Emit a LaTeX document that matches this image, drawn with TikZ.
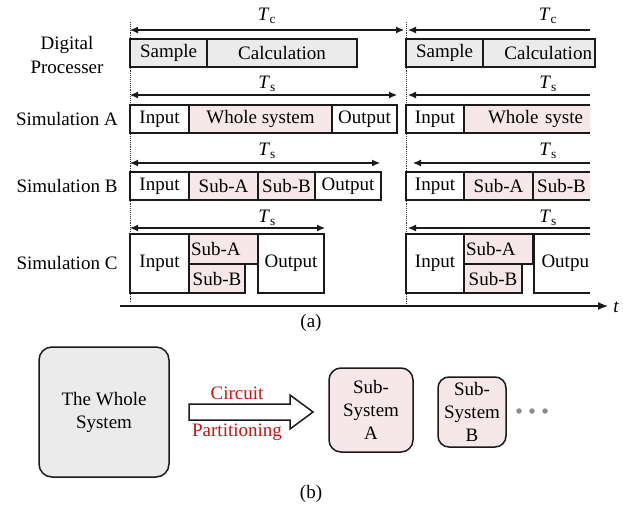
\documentclass[tikz,border=0pt]{standalone}
\usepackage{fontspec}
\setmainfont{Liberation Serif}
\usetikzlibrary{arrows.meta}
\definecolor{grayfill}{HTML}{EBEBEB}
\definecolor{pinkfill}{HTML}{F6E8E8}
\definecolor{redtext}{HTML}{CC1111}
\definecolor{linec}{HTML}{1A1A1A}
\newcommand\bx[7]{\node[#1, minimum width={(#5)-(#3)}, minimum height={(#6)-(#4)}] (#2) at ({((#3)+(#5))/2},{((#4)+(#6))/2}) {#7};}
\tikzset{
  fs/.style={font=\fontsize{19}{23}\selectfont},
  box/.style={fs, draw=linec, line width=1.5pt, inner xsep=2pt, inner ysep=0pt},
  gbox/.style={box, fill=grayfill},
  pbox/.style={box, fill=pinkfill},
  pfill/.style={fs, fill=pinkfill, inner xsep=2pt, inner ysep=0pt},
  wfill/.style={fs, inner xsep=2pt, inner ysep=0pt},
  boxline/.style={draw=linec, line width=1.5pt},
  dimboth/.style={line width=1.1pt, draw=linec, {Latex[length=8pt,width=7pt]}-{Latex[length=8pt,width=7pt]}},
  dimleft/.style={line width=1.1pt, draw=linec, {Latex[length=8pt,width=7pt]}-},
  vdot/.style={densely dotted, line width=0.9pt, draw=black!80},
  rbox/.style={fs, draw=linec, line width=1.5pt, align=center, inner sep=2pt},
  dotn/.style={circle, fill=black!45, inner sep=0pt, minimum size=5.5pt},
}
\begin{document}
\begin{tikzpicture}[x=1pt,y=-1pt, every node/.style={fs}]
\useasboundingbox (0,0) rectangle (623,506);

% row labels
\node[align=center] (lp) at (67,55) {Digital\\Processer};
\node (la) at (67,119) {Simulation A};
\node (lb) at (67,186) {Simulation B};
\node (lc) at (67,263) {Simulation C};

% dotted period lines
\coordinate (d1t) at (130,22); \coordinate (d1b) at (130,302);
\coordinate (d2t) at (406,22); \coordinate (d2b) at (406,306);
\draw[vdot] (d1t) -- (d1b);
\draw[vdot] (d2t) -- (d2b);

% Tc
\coordinate (tca) at (130,30); \coordinate (tcb) at (404,30);
\coordinate (tcc) at (408,30); \coordinate (tcd) at (590,30);
\draw[dimboth] (tca) -- (tcb);
\draw[dimleft] (tcc) -- (tcd);
\node (tcl1) at (267,16) {\textit{T}\textsubscript{c}};
\node (tcl2) at (548,16) {\textit{T}\textsubscript{c}};

% Digital processor row
\bx{gbox}{s1}{130}{39}{207}{67}{Sample}
\bx{gbox}{c1}{207}{39}{357}{67}{Calculation}
\bx{gbox}{s2}{406}{39}{483}{67}{Sample}
\bx{gbox, text width=106pt, inner xsep=3pt, align=right}{c2}{483}{39}{595}{67}{Calculation}

% Ts row A
\coordinate (taa) at (130,95); \coordinate (tab) at (397,95);
\coordinate (tac) at (408,95); \coordinate (tad) at (590,95);
\draw[dimboth] (taa) -- (tab);
\draw[dimleft] (tac) -- (tad);
\node (tal1) at (267,84) {\textit{T}\textsubscript{s}};
\node (tal2) at (548,84) {\textit{T}\textsubscript{s}};

% Simulation A
\bx{box}{ia1}{130}{105}{189}{133}{Input}
\bx{pbox}{wa1}{189}{105}{332}{133}{Whole system}
\bx{box}{oa1}{332}{105}{397}{133}{Output}
\bx{box}{ia2}{406}{105}{464}{133}{Input}
\bx{pfill, text width=112pt, inner xsep=7pt, align=right}{wa2}{464}{105}{590}{133}{Whole syste}
\draw[boxline] (wa2.north east) -- (wa2.north west) -- (wa2.south west) -- (wa2.south east);

% Ts row B
\coordinate (tba) at (130,163); \coordinate (tbb) at (380,163);
\coordinate (tbc) at (413,163); \coordinate (tbd) at (590,163);
\draw[dimboth] (tba) -- (tbb);
\draw[dimleft] (tbc) -- (tbd);
\node (tbl1) at (267,151) {\textit{T}\textsubscript{s}};
\node (tbl2) at (548,151) {\textit{T}\textsubscript{s}};

% Simulation B
\bx{box}{ib1}{130}{172}{189}{200}{Input}
\bx{pbox}{sab1}{189}{172}{258}{200}{Sub-A}
\bx{pbox}{sbb1}{258}{172}{315}{200}{Sub-B}
\bx{box}{ob1}{315}{172}{381}{200}{Output}
\bx{box}{ib2}{406}{172}{464}{200}{Input}
\bx{pbox}{sab2}{464}{172}{533}{200}{Sub-A}
\bx{pfill}{sbb2}{533}{172}{590}{200}{Sub-B}
\draw[boxline] (sbb2.north east) -- (sbb2.north west) -- (sbb2.south west) -- (sbb2.south east);

% Ts row C
\coordinate (tcca) at (130,228); \coordinate (tccb) at (325,228);
\coordinate (tccc) at (408,228); \coordinate (tccd) at (590,228);
\draw[dimboth] (tcca) -- (tccb);
\draw[dimleft] (tccc) -- (tccd);
\node (tcl3) at (267,218) {\textit{T}\textsubscript{s}};
\node (tcl4) at (548,218) {\textit{T}\textsubscript{s}};

% Simulation C
\bx{box}{ic1}{130}{234}{189}{293}{Input}
\bx{pbox, text width=65pt, align=left}{sac1}{189}{234}{258}{264}{Sub-A}
\bx{pbox}{sbc1}{189}{264}{245}{293}{Sub-B}
\bx{box}{oc1}{258}{234}{324}{293}{Output}
\bx{box}{ic2}{406}{234}{464}{293}{Input}
\bx{pbox, text width=65pt, align=left}{sac2}{464}{234}{533}{264}{Sub-A}
\bx{pbox}{sbc2}{464}{264}{522}{293}{Sub-B}
\bx{wfill, text width=54pt, inner xsep=1pt, align=right}{oc2}{534}{234}{590}{293}{Outpu}
\draw[boxline] (oc2.north east) -- (oc2.north west) -- (oc2.south west) -- (oc2.south east);

% time axis
\coordinate (ax0) at (120,306); \coordinate (ax1) at (608,306);
\draw[line width=1.3pt, draw=linec, -{Latex[length=10pt,width=8pt]}] (ax0) -- (ax1);
\node (tl) at (616,307) {\itshape t};
\node (capa) at (311,323) {(a)};

% ---- (b) ----
\node[rbox, fill=grayfill, minimum width=130pt, minimum height=130pt, rounded corners=13pt] (whole) at (104,412) {The Whole\\System};
\draw[line width=1.5pt, draw=linec, fill=white] (189,404) -- (290,404) -- (290,395) -- (313,412) -- (290,429) -- (290,420) -- (189,420) -- cycle;
\node[text=redtext] (circ) at (237,393) {Circuit};
\node[text=redtext] (part) at (237,432) {Partitioning};
\node[rbox, fill=pinkfill, minimum width=84pt, minimum height=84pt, rounded corners=12pt] (ssa) at (371,410) {Sub-\\System\\A};
\node[rbox, fill=pinkfill, minimum width=68pt, minimum height=70pt, rounded corners=11pt] (ssb) at (472,412) {Sub-\\System\\B};
\node[dotn] (dt1) at (519,411) {};
\node[dotn] (dt2) at (532,411) {};
\node[dotn] (dt3) at (545,411) {};
\node (capb) at (311,494) {(b)};
\end{tikzpicture}
\end{document}
